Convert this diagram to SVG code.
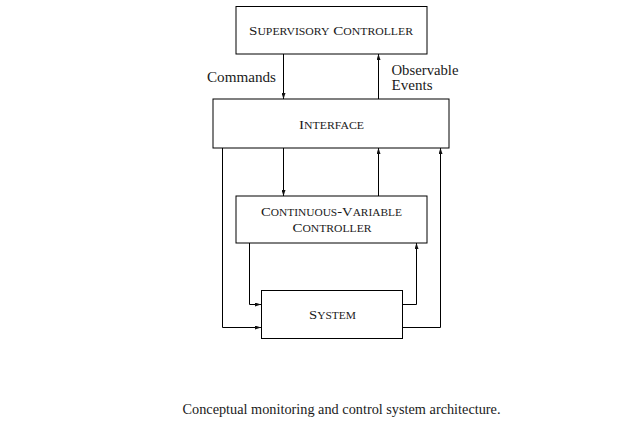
<svg xmlns="http://www.w3.org/2000/svg" width="641" height="430" viewBox="0 0 641 430">
<defs>
<marker id="ah" viewBox="0 0 6 4" refX="6" refY="2" markerWidth="6" markerHeight="4" markerUnits="userSpaceOnUse" orient="auto">
<path d="M0,0 L6,2 L0,4 Z" fill="#111"/>
</marker>
<style>
.box{fill:#fff;stroke:#000;stroke-width:1}
.lbl{font-family:"Liberation Serif","DejaVu Serif",serif;font-size:13.5px;fill:#1a1a1a}
.s{font-size:10.5px}
.t{font-family:"Liberation Serif","DejaVu Serif",serif;font-size:14px;fill:#1a1a1a}
.c{fill:none;stroke:#000;stroke-width:1;marker-end:url(#ah)}
</style>
</defs>
<rect width="641" height="430" fill="#fff"/>
<g id="connectors">
<path class="c" d="M283.5,54 V99"/>
<path class="c" d="M378.5,99 V54"/>
<path class="c" d="M283.5,148 V196"/>
<path class="c" d="M378.5,196 V148"/>
<path class="c" d="M249.5,243 V304.5 H261"/>
<path class="c" d="M222.5,148 V327.5 H261"/>
<path class="c" d="M402,304.5 H416.5 V243"/>
<path class="c" d="M402,327.5 H440.5 V148"/>
<text class="t" x="207" y="82" textLength="69" lengthAdjust="spacingAndGlyphs">Commands</text>
<text class="t" x="391.5" y="75" textLength="67" lengthAdjust="spacingAndGlyphs">Observable</text>
<text class="t" x="391.5" y="90" textLength="41" lengthAdjust="spacingAndGlyphs">Events</text>
</g>
<g id="supervisory">
<rect class="box" x="236" y="6.5" width="191" height="47.5"/>
<text class="lbl" x="249" y="35" textLength="164" lengthAdjust="spacingAndGlyphs">S<tspan class="s">UPERVISORY</tspan> C<tspan class="s">ONTROLLER</tspan></text>
</g>
<g id="interface">
<rect class="box" x="213" y="99" width="236" height="49"/>
<text class="lbl" x="299" y="128.5" textLength="65" lengthAdjust="spacingAndGlyphs">I<tspan class="s">NTERFACE</tspan></text>
</g>
<g id="cv-controller">
<rect class="box" x="236" y="196" width="191" height="47"/>
<text class="lbl" x="261" y="216" textLength="141" lengthAdjust="spacingAndGlyphs">C<tspan class="s">ONTINUOUS</tspan>-V<tspan class="s">ARIABLE</tspan></text>
<text class="lbl" x="292.5" y="232" textLength="79" lengthAdjust="spacingAndGlyphs">C<tspan class="s">ONTROLLER</tspan></text>
</g>
<g id="system">
<rect class="box" x="261.5" y="290.5" width="141" height="48"/>
<text class="lbl" x="309" y="318.5" textLength="47" lengthAdjust="spacingAndGlyphs">S<tspan class="s">YSTEM</tspan></text>
</g>
<text class="t" x="182.5" y="414" textLength="318" lengthAdjust="spacingAndGlyphs">Conceptual monitoring and control system architecture.</text>
</svg>
